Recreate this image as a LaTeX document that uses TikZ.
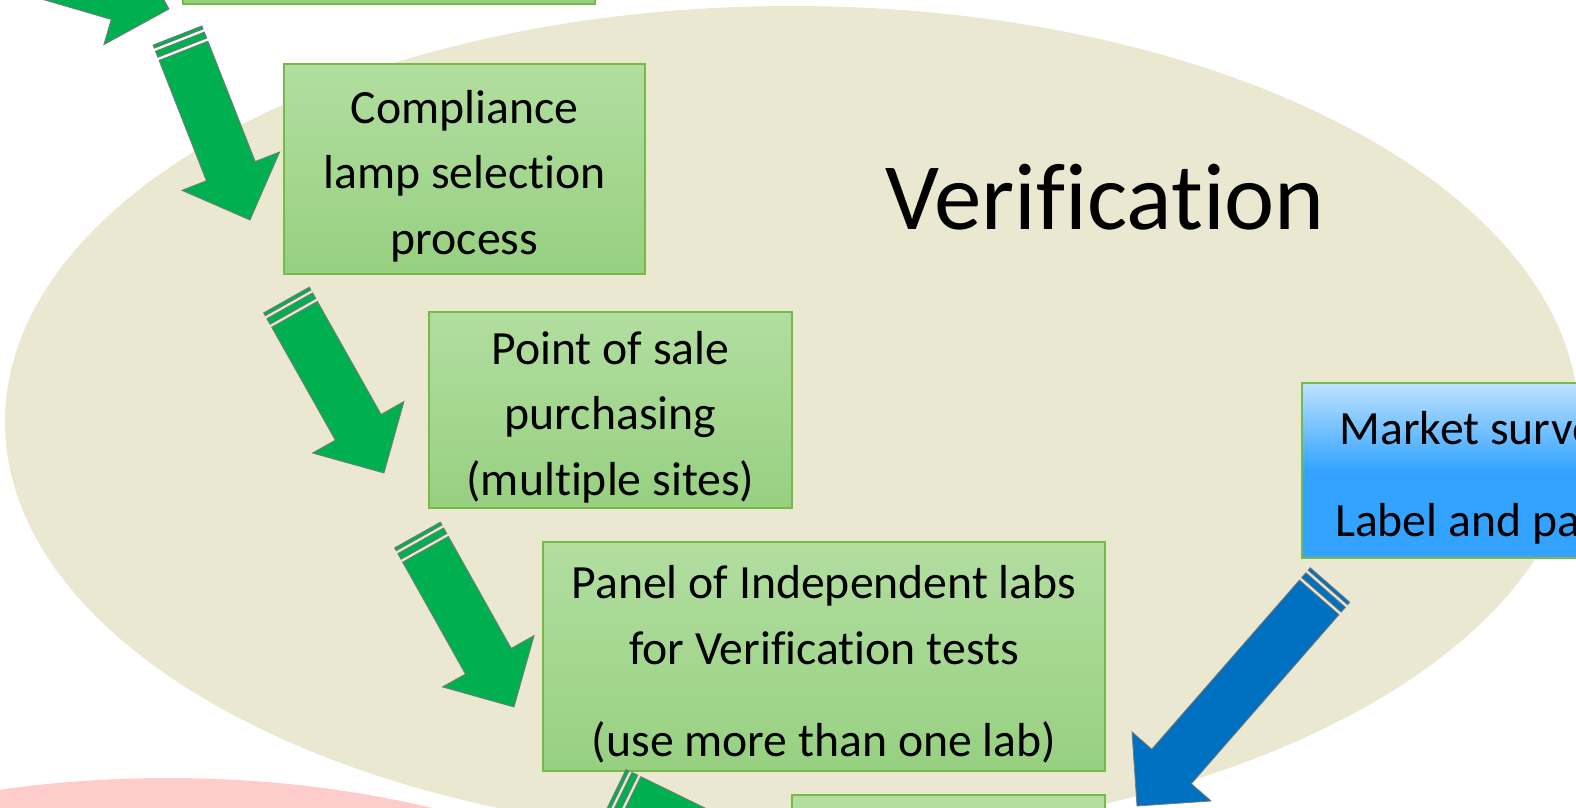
\documentclass[tikz,border=0pt]{standalone}
\usepackage{fontspec}
\setmainfont{Carlito}[Ligatures={NoCommon,NoContextual,NoRequired}]
\usetikzlibrary{calc}

\definecolor{verifbg}{RGB}{234,232,208}
\definecolor{pinkbg}{RGB}{255,204,204}
\definecolor{arrowgreen}{RGB}{0,176,80}
\definecolor{arrowblue}{RGB}{0,112,192}
\definecolor{arrowline}{RGB}{120,120,120}
\definecolor{boxtop}{RGB}{178,222,160}
\definecolor{boxbottom}{RGB}{151,208,129}
\definecolor{boxline}{RGB}{118,186,72}
\definecolor{bluetop}{RGB}{190,226,255}
\definecolor{bluemain}{RGB}{51,163,255}

% Striped block arrow from tail coordinate #1 to tip coordinate #2, fill #3
\newcommand\blockarrow[3]{%
  \filldraw[blockedge, fill=#3]
    ($(#1)!0pt!(#2)!26.25pt!90:(#2)$) -- ($(#1)!3.3pt!(#2)!26.25pt!90:(#2)$)
    -- ($(#1)!3.3pt!(#2)!26.25pt!-90:(#2)$) -- ($(#1)!0pt!(#2)!26.25pt!-90:(#2)$) -- cycle;
  \filldraw[blockedge, fill=#3]
    ($(#1)!6.6pt!(#2)!26.25pt!90:(#2)$) -- ($(#1)!13.1pt!(#2)!26.25pt!90:(#2)$)
    -- ($(#1)!13.1pt!(#2)!26.25pt!-90:(#2)$) -- ($(#1)!6.6pt!(#2)!26.25pt!-90:(#2)$) -- cycle;
  \filldraw[blockedge, fill=#3]
    ($(#1)!16.4pt!(#2)!26.25pt!90:(#2)$)
    -- ($(#2)!52.5pt!(#1)!26.25pt!-90:(#1)$)
    -- ($(#2)!52.5pt!(#1)!52.5pt!-90:(#1)$)
    -- (#2)
    -- ($(#2)!52.5pt!(#1)!52.5pt!90:(#1)$)
    -- ($(#2)!52.5pt!(#1)!26.25pt!90:(#1)$)
    -- ($(#1)!16.4pt!(#2)!26.25pt!-90:(#2)$) -- cycle;
}

\tikzset{
  blockedge/.style={draw=arrowline, line width=0.8pt, line join=miter},
  stepbox/.style={rectangle, draw=boxline, line width=1.4pt,
    top color=boxtop, bottom color=boxbottom, inner sep=0pt},
  survbox/.style={stepbox, top color=bluetop, bottom color=bluemain, middle color=bluemain},
  steptext/.style={inner sep=0pt, align=center, font={\fontsize{47.7pt}{65.5pt}\selectfont}},
}

\begin{document}
\begin{tikzpicture}[x=1pt,y=-1pt]
  \useasboundingbox (0,0) rectangle (1576,807);
  \clip (0,0) rectangle (1576,807);

  % background regions
  \fill[verifbg] (792,422) ellipse [x radius=787pt, y radius=416pt];
  \fill[pinkbg] (168,1208) ellipse [x radius=720pt, y radius=430pt];

  \node[anchor=base, font={\fontsize{95pt}{112pt}\selectfont}] (verif) at (1105,229) {Verification};

  % process steps
  \node[stepbox, minimum width=412pt, minimum height=208pt] (top) at (389,-100) {};
  \node[stepbox, minimum width=361pt, minimum height=210pt] (comp) at (464.5,169) {};
  \node[steptext] (compT) at ($(comp)+(0,7)$) {Compliance\\lamp selection\\process};
  \node[stepbox, minimum width=363pt, minimum height=196pt] (pos) at (610.5,410) {};
  \node[steptext] (posT) at ($(pos)+(0,7)$) {Point of sale\\purchasing\\(multiple sites)};
  \node[stepbox, minimum width=562pt, minimum height=229pt] (panel) at (824,656.5) {};
  \node[steptext] (panelT) at ($(panel)+(0,7.5)$)
    {Panel of Independent labs\\for Verification tests\\[26.5pt](use more than one lab)};
  \node[stepbox, minimum width=313pt, minimum height=210pt] (next) at (948.5,900) {};
  \node[survbox, minimum width=456pt, minimum height=175pt] (surv) at (1530,470.5) {};
  \node[steptext] (survT) at ($(surv)+(0,7.5)$) {Market surveillance\\[26pt]Label and packaging};

  % arrow ends
  \coordinate (a1s) at (-21,-46.6);  \coordinate (a1t) at (169,9);
  \coordinate (a2s) at (177.5,35.5); \coordinate (a2t) at (250,220);
  \coordinate (a3s) at (286.5,300);  \coordinate (a3t) at (384,473);
  \coordinate (a4s) at (417.5,535);  \coordinate (a4t) at (514,707);
  \coordinate (a5s) at (614.5,793);  \coordinate (a5t) at (792.5,880);
  \coordinate (b1s) at (1330,585);   \coordinate (b1t) at (1137,806);

  \blockarrow{a1s}{a1t}{arrowgreen}
  \blockarrow{a2s}{a2t}{arrowgreen}
  \blockarrow{a3s}{a3t}{arrowgreen}
  \blockarrow{a4s}{a4t}{arrowgreen}
  \blockarrow{a5s}{a5t}{arrowgreen}
  \blockarrow{b1s}{b1t}{arrowblue}
\end{tikzpicture}
\end{document}
